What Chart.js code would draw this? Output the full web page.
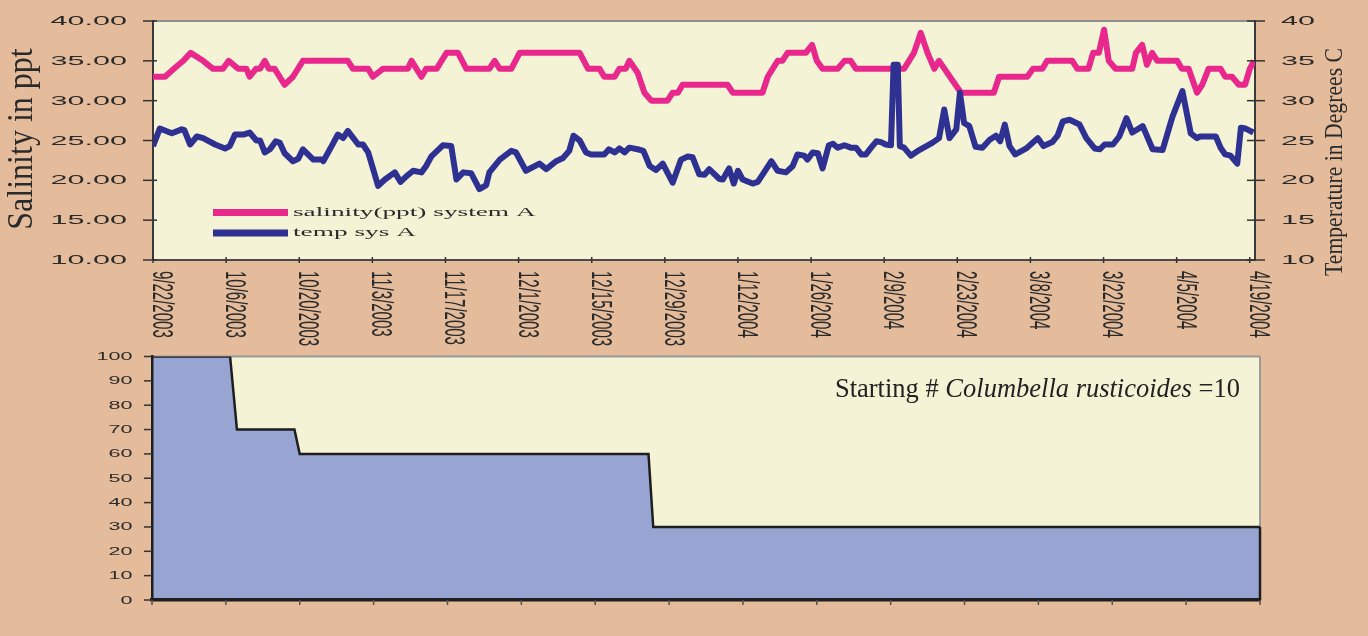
<!DOCTYPE html>
<html>
<head>
<meta charset="utf-8">
<title>Salinity, temperature and survival - system A</title>
<script src="https://cdn.jsdelivr.net/npm/chart.js@4.4.1/dist/chart.umd.min.js"></script>
<style>
  html, body { margin: 0; padding: 0; background: #E4BC9C; }
  body { width: 1368px; height: 636px; position: relative; overflow: hidden; }
  canvas { position: absolute; left: 0; }
  #tempSal { top: 0; }
  #survival { top: 340px; }
</style>
</head>
<body>
<canvas id="tempSal" width="1368" height="352"></canvas>
<canvas id="survival" width="1368" height="296"></canvas>
<script>
// ------- data (x = days since 9/22/2003) -------
const dateLabels = ['9/22/2003', '10/6/2003', '10/20/2003', '11/3/2003', '11/17/2003', '12/1/2003',
  '12/15/2003', '12/29/2003', '1/12/2004', '1/26/2004', '2/9/2004', '2/23/2004', '3/8/2004',
  '3/22/2004', '4/5/2004', '4/19/2004'];
const tickDays = [0, 14, 28, 42, 56, 70, 84, 98, 112, 126, 140, 154, 168, 182, 196, 210];

const salinityDay = [0, 2.3, 4, 5.8, 7.2, 9.6, 11.5, 13.4, 14.5, 16.3,
  17.9, 18.5, 19.7, 20.5, 21.4, 22.2, 23.3, 25.2, 26.8, 28.7,
  37.3, 38.3, 41.2, 42.1, 44, 48.8, 49.5, 51.4, 52.3, 54.3,
  56.2, 58.4, 60, 64.4, 65.4, 66.4, 68.6, 70.2, 81.7, 83.3,
  85.5, 86.4, 88.4, 89.3, 90.5, 91.2, 92.8, 94.1, 95.4, 98.5,
  99.5, 100.5, 101.4, 110, 111, 116.7, 117.7, 119.6, 120.5, 121.5,
  125, 126.2, 127.1, 128.2, 131.1, 132.4, 133.6, 134.6, 143.8, 145.7,
  147, 148.3, 149.6, 150.5, 154.7, 161, 162, 167.4, 168.5, 170.3,
  171.2, 176, 177, 179.1, 180, 181.1, 182.1, 183, 184.3, 187.5,
  188.2, 189.4, 190.3, 191.3, 192.3, 196.1, 197, 198.3, 199.9, 200.9,
  202.1, 204.4, 205.3, 206.6, 207.9, 209.1, 210, 210.8];
const salinityPpt = [33, 33, 34, 35, 36, 35, 34, 34, 35, 34,
  34, 33, 34, 34, 35, 34, 34, 32, 33, 35,
  35, 34, 34, 33, 34, 34, 35, 33, 34, 34,
  36, 36, 34, 34, 35, 34, 34, 36, 36, 34,
  34, 33, 33, 34, 34, 35, 33.5, 31, 30, 30,
  31, 31, 32, 32, 31, 31, 33, 35, 35, 36,
  36, 37, 35, 34, 34, 35, 35, 34, 34, 36,
  38.5, 36, 34, 35, 31, 31, 33, 33, 34, 34,
  35, 35, 34, 34, 36, 36, 38.9, 35, 34, 34,
  36, 37, 34.5, 36, 35, 35, 34, 34, 31, 32,
  34, 34, 33, 33, 32, 32, 34, 35];

const tempDay = [0, 1.3, 3.6, 5.5, 6.0, 7.1, 8.4, 9.6, 11.9, 13.8,
  14.7, 15.7, 17.3, 18.5, 19.8, 20.5, 21.4, 22.4, 23.5, 24.3,
  25.2, 26.8, 27.8, 28.7, 30.7, 32.3, 32.6, 34.2, 35.4, 36.4,
  37.3, 39.3, 40.2, 41.2, 43.1, 44.4, 46.3, 47.4, 48.5, 49.8,
  51.4, 52.3, 53.3, 55.5, 57.1, 58.1, 59.4, 60.9, 62.5, 63.8,
  64.4, 66.4, 68.6, 69.5, 71.4, 74.0, 75.3, 77.2, 78.5, 79.7,
  80.5, 81.7, 82.9, 83.9, 86.4, 87.3, 88.4, 89.3, 90.3, 91.2,
  92.8, 93.9, 95.1, 96.3, 97.6, 99.5, 101.1, 102.4, 103.3, 104.6,
  105.6, 106.5, 108.4, 109.1, 110.3, 111.2, 112.0, 112.9, 114.8, 115.8,
  117.0, 118.4, 119.6, 121.2, 122.5, 123.4, 124.7, 125.3, 126.3, 127.3,
  128.2, 129.4, 130.2, 131.1, 132.4, 133.6, 134.6, 135.6, 136.5, 137.5,
  138.5, 139.4, 140.3, 141.3, 141.8, 142.6, 143.0, 143.8, 145.1, 146.7,
  149.2, 150.5, 151.5, 152.5, 153.8, 154.5, 155.3, 156.3, 157.5, 158.8,
  160.2, 161.4, 162.2, 163.1, 164.0, 165.1, 167.2, 169.4, 170.5, 172.2,
  173.2, 174.2, 175.5, 177.4, 178.7, 180.3, 181.3, 182.2, 183.8, 185.0,
  186.4, 187.5, 189.5, 191.4, 193.3, 195.2, 197.1, 198.7, 199.9, 200.5,
  203.5, 204.4, 205.3, 206.3, 207.6, 208.3, 209.2, 210.7];
const tempC = [24.3, 26.5, 25.9, 26.4, 26.3, 24.5, 25.5, 25.3, 24.5, 24.0,
  24.3, 25.75, 25.75, 26.0, 25.0, 25.0, 23.5, 23.9, 24.9, 24.7,
  23.4, 22.4, 22.7, 23.9, 22.6, 22.6, 22.4, 24.3, 25.75, 25.3,
  26.2, 24.5, 24.5, 23.5, 19.3, 20.1, 21.0, 19.8, 20.5, 21.2,
  21.0, 21.8, 23.0, 24.4, 24.3, 20.1, 21.0, 20.9, 18.9, 19.4,
  21.0, 22.6, 23.7, 23.5, 21.2, 22.1, 21.4, 22.4, 22.8, 23.7,
  25.6, 25.0, 23.5, 23.25, 23.25, 23.9, 23.5, 24.0, 23.5, 24.1,
  23.9, 23.7, 21.8, 21.3, 22.1, 19.7, 22.6, 23.0, 22.9, 20.75,
  20.7, 21.4, 20.2, 20.1, 21.5, 19.6, 21.2, 20.1, 19.6, 19.8,
  21.0, 22.4, 21.2, 21.0, 21.8, 23.25, 23.1, 22.6, 23.5, 23.4,
  21.5, 24.4, 24.6, 24.1, 24.4, 24.1, 24.1, 23.25, 23.25, 24.1,
  24.9, 24.8, 24.5, 24.4, 34.5, 34.5, 24.3, 24.1, 23.1, 23.8,
  24.7, 25.3, 28.9, 25.3, 26.4, 31.0, 27.2, 26.8, 24.2, 24.1,
  25.1, 25.6, 24.9, 27.0, 24.3, 23.25, 24.0, 25.3, 24.3, 24.8,
  25.6, 27.4, 27.6, 27.0, 25.3, 24.0, 23.9, 24.5, 24.5, 25.5,
  27.8, 26.0, 26.8, 23.9, 23.8, 28.0, 31.2, 25.9, 25.3, 25.5,
  25.5, 24.1, 23.25, 23.1, 22.1, 26.6, 26.5, 26.0];

// percent of starting snails still alive
const survivalDay = [0, 14.8, 16.1, 27, 28, 94.1, 95, 210];
const survivalPct = [100, 100, 70, 70, 60, 60, 30, 30];

// ------- styles -------
const PLOT_BG = '#F5F3D6';
const PINK = '#E8288C';
const NAVY = '#2E3192';
const INK = '#2a2a2a';

// ------- canvas helpers -------
const pts = (xs, ys) => xs.map((x, i) => ({ x, y: ys[i] }));

function seg(ctx, x1, y1, x2, y2) {
  ctx.beginPath();
  ctx.moveTo(x1, y1);
  ctx.lineTo(x2, y2);
  ctx.stroke();
}

// text that is widened along the page x direction (sx), optionally rotated
function txt(ctx, s, x, y, o) {
  ctx.save();
  ctx.translate(x, y);
  ctx.scale(o.sx || 1, 1);
  if (o.rot) ctx.rotate(o.rot);
  ctx.font = o.font;
  ctx.textAlign = o.align || 'left';
  ctx.textBaseline = o.baseline || 'middle';
  ctx.fillStyle = o.color || INK;
  ctx.fillText(s, 0, 0);
  ctx.restore();
}

// ------- top panel: salinity + temperature -------
const topDecor = {
  id: 'topDecor',
  beforeDraw(chart) {
    const { ctx, chartArea: a } = chart;
    ctx.save();
    ctx.fillStyle = PLOT_BG;
    ctx.fillRect(a.left, a.top, a.right - a.left, a.bottom - a.top);
    ctx.strokeStyle = '#8f8f8f';
    ctx.lineWidth = 2;
    seg(ctx, a.left, a.top, a.right, a.top);
    ctx.restore();
  },
  afterDraw(chart) {
    const { ctx, chartArea: a, scales } = chart;
    const ys = scales.ySal, yt = scales.yTemp, xs = scales.x;
    ctx.save();
    ctx.strokeStyle = '#333';
    ctx.lineWidth = 1.5;

    ys.ticks.forEach(t => {
      const py = ys.getPixelForValue(t.value);
      seg(ctx, a.left - 10, py, a.left + 4, py);
      txt(ctx, t.value.toFixed(2), 127, py + 0.5, { font: '13px "Liberation Sans"', sx: 2.35, align: 'right' });
    });
    yt.ticks.forEach(t => {
      const py = yt.getPixelForValue(t.value);
      seg(ctx, a.right - 8, py, a.right + 10, py);
      txt(ctx, String(t.value), 1281, py + 0.5, { font: '13px "Liberation Sans"', sx: 2.35, align: 'left' });
    });
    xs.ticks.forEach((t, i) => {
      const px = xs.getPixelForValue(t.value);
      seg(ctx, px, a.bottom - 3, px, a.bottom + 3);
      txt(ctx, dateLabels[i], px + 8, 271, { font: '15px "Liberation Sans"', sx: 1.95, rot: Math.PI / 2 });
    });

    // axis titles
    txt(ctx, 'Salinity in ppt', 23, 139, { font: '32px "Liberation Serif"', sx: 1.12, rot: -Math.PI / 2, align: 'center' });
    txt(ctx, 'Temperature in Degrees C', 1336, 162, { font: '21.7px "Liberation Serif"', sx: 1.14, rot: -Math.PI / 2, align: 'center' });

    // legend inside the plot
    const rows = [
      { ds: chart.data.datasets[1], y: 212.5 },
      { ds: chart.data.datasets[0], y: 233 }
    ];
    rows.forEach(r => {
      ctx.fillStyle = r.ds.borderColor;
      ctx.fillRect(213, r.y - 3.5, 75, 7);
      txt(ctx, r.ds.label, 293, r.y, { font: '13px "Liberation Serif"', sx: 2.1 });
    });
    ctx.restore();
  }
};

new Chart(document.getElementById('tempSal'), {
  type: 'line',
  data: {
    datasets: [
      {
        label: 'temp sys A',
        data: pts(tempDay, tempC),
        yAxisID: 'yTemp',
        borderColor: NAVY,
        borderWidth: 6,
        borderJoinStyle: 'round',
        pointRadius: 0,
        tension: 0,
        order: 0
      },
      {
        label: 'salinity(ppt) system A',
        data: pts(salinityDay, salinityPpt),
        yAxisID: 'ySal',
        borderColor: PINK,
        borderWidth: 6,
        borderJoinStyle: 'round',
        pointRadius: 0,
        tension: 0,
        order: 1
      }
    ]
  },
  options: {
    responsive: false,
    animation: false,
    events: [],
    layout: { padding: { top: 21, left: 0, right: 0, bottom: 0 } },
    plugins: { legend: { display: false }, tooltip: { enabled: false } },
    scales: {
      x: {
        type: 'linear', min: 0, max: 211,
        grid: { display: false },
        border: { display: true, color: '#4a4a4a', width: 2 },
        ticks: { display: false },
        afterBuildTicks: s => { s.ticks = tickDays.map(v => ({ value: v })); },
        afterFit: s => { s.height = 92; }
      },
      ySal: {
        position: 'left', min: 10, max: 40,
        ticks: { stepSize: 5, display: false },
        grid: { display: false },
        border: { display: true, color: '#3a3a3a', width: 2 },
        afterFit: s => { s.width = 153; }
      },
      yTemp: {
        position: 'right', min: 10, max: 40,
        ticks: { stepSize: 5, display: false },
        grid: { display: false },
        border: { display: true, color: '#3a3a3a', width: 2 },
        afterFit: s => { s.width = 113; }
      }
    }
  },
  plugins: [topDecor]
});

// ------- bottom panel: survival -------
const survivalDecor = {
  id: 'survivalDecor',
  beforeDraw(chart) {
    const { ctx, chartArea: a } = chart;
    ctx.save();
    ctx.fillStyle = PLOT_BG;
    ctx.fillRect(a.left, a.top, a.right - a.left, a.bottom - a.top);
    ctx.strokeStyle = '#9a9a9a';
    ctx.lineWidth = 2;
    seg(ctx, a.left, a.top, a.right, a.top);
    seg(ctx, a.right, a.top, a.right, a.bottom);
    ctx.restore();
  },
  afterDraw(chart) {
    const { ctx, chartArea: a, scales } = chart;
    const y = scales.y, x = scales.x;
    ctx.save();
    // closing edge of the area at the last day
    ctx.strokeStyle = '#1e1e1e';
    ctx.lineWidth = 2.5;
    seg(ctx, a.right, y.getPixelForValue(0), a.right, y.getPixelForValue(survivalPct[survivalPct.length - 1]));

    ctx.strokeStyle = '#333';
    ctx.lineWidth = 1.5;
    y.ticks.forEach(t => {
      const py = y.getPixelForValue(t.value);
      seg(ctx, a.left - 8, py, a.left, py);
      txt(ctx, String(t.value), 132.5, py + 0.5, { font: '11px "Liberation Sans"', sx: 1.96, align: 'right' });
    });
    ctx.strokeStyle = '#555';
    x.ticks.forEach(t => {
      const px = x.getPixelForValue(t.value);
      seg(ctx, px, a.bottom, px, a.bottom + 5);
    });

    // starting count note, right aligned inside the plot
    const parts = [
      ['Starting # ', 'normal'],
      ['Columbella rusticoides', 'italic'],
      [' =10', 'normal']
    ];
    const fonts = parts.map(p => `${p[1]} 26.5px "Liberation Serif"`);
    let total = 0;
    const widths = parts.map((p, i) => { ctx.font = fonts[i]; const w = ctx.measureText(p[0]).width; total += w; return w; });
    let cx = 1240 - total;
    parts.forEach((p, i) => {
      txt(ctx, p[0], cx, 56.7, { font: fonts[i], baseline: 'alphabetic', color: '#222' });
      cx += widths[i];
    });
    ctx.restore();
  }
};

new Chart(document.getElementById('survival'), {
  type: 'line',
  data: {
    datasets: [{
      label: '% surviving',
      data: pts(survivalDay, survivalPct),
      fill: 'origin',
      backgroundColor: '#98A5D2',
      borderColor: '#1e1e1e',
      borderWidth: 2.5,
      pointRadius: 0,
      tension: 0
    }]
  },
  options: {
    responsive: false,
    animation: false,
    events: [],
    layout: { padding: { top: 16.5, left: 0, right: 108, bottom: 0 } },
    plugins: { legend: { display: false }, tooltip: { enabled: false } },
    scales: {
      x: {
        type: 'linear', min: 0, max: 210,
        grid: { display: false },
        border: { display: true, color: '#1e1e1e', width: 3.5, z: 1 },
        ticks: { display: false },
        afterBuildTicks: s => { s.ticks = tickDays.map(v => ({ value: v })); },
        afterFit: s => { s.height = 36; }
      },
      y: {
        position: 'left', min: 0, max: 100,
        ticks: { stepSize: 10, display: false },
        grid: { display: false },
        border: { display: true, color: '#1e1e1e', width: 2.5, z: 1 },
        afterFit: s => { s.width = 152; }
      }
    }
  },
  plugins: [survivalDecor]
});
</script>
</body>
</html>
